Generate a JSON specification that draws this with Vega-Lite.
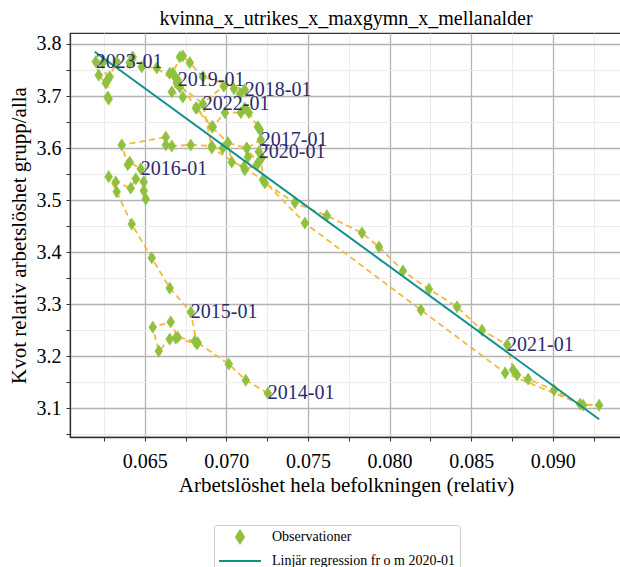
{
  "$schema": "https://vega.github.io/schema/vega-lite/v6.json",
  "width": 552,
  "height": 404,
  "autosize": {"type": "none"},
  "padding": {"left": 70, "top": 33, "right": 0, "bottom": 130},
  "background": "white",
  "title": {"text": "kvinna_x_utrikes_x_maxgymn_x_mellanalder", "font": "Liberation Serif", "fontSize": 20, "fontWeight": "normal", "color": "black", "offset": 4},
  "config": {
    "view": {"stroke": "#333333", "strokeWidth": 1.2}
  },
  "datasets": {
    "obs": [
      {"t": 1, "x": 0.07254, "y": 3.129, "label": "2014-01"},
      {"t": 2, "x": 0.07119, "y": 3.154, "label": ""},
      {"t": 3, "x": 0.07015, "y": 3.185, "label": ""},
      {"t": 4, "x": 0.06825, "y": 3.226, "label": ""},
      {"t": 5, "x": 0.06807, "y": 3.229, "label": ""},
      {"t": 6, "x": 0.06702, "y": 3.237, "label": ""},
      {"t": 7, "x": 0.06659, "y": 3.266, "label": ""},
      {"t": 8, "x": 0.06549, "y": 3.256, "label": ""},
      {"t": 9, "x": 0.06586, "y": 3.210, "label": ""},
      {"t": 10, "x": 0.06653, "y": 3.233, "label": ""},
      {"t": 11, "x": 0.06690, "y": 3.235, "label": ""},
      {"t": 12, "x": 0.06819, "y": 3.224, "label": ""},
      {"t": 13, "x": 0.06782, "y": 3.285, "label": "2015-01"},
      {"t": 14, "x": 0.06653, "y": 3.331, "label": ""},
      {"t": 15, "x": 0.06543, "y": 3.389, "label": ""},
      {"t": 16, "x": 0.06420, "y": 3.454, "label": ""},
      {"t": 17, "x": 0.06328, "y": 3.516, "label": ""},
      {"t": 18, "x": 0.06279, "y": 3.545, "label": ""},
      {"t": 19, "x": 0.06322, "y": 3.535, "label": ""},
      {"t": 20, "x": 0.06414, "y": 3.523, "label": ""},
      {"t": 21, "x": 0.06445, "y": 3.541, "label": ""},
      {"t": 22, "x": 0.06494, "y": 3.535, "label": ""},
      {"t": 23, "x": 0.06494, "y": 3.518, "label": ""},
      {"t": 24, "x": 0.06506, "y": 3.502, "label": ""},
      {"t": 25, "x": 0.06475, "y": 3.560, "label": "2016-01"},
      {"t": 26, "x": 0.06408, "y": 3.573, "label": ""},
      {"t": 27, "x": 0.06396, "y": 3.568, "label": ""},
      {"t": 28, "x": 0.06359, "y": 3.606, "label": ""},
      {"t": 29, "x": 0.06629, "y": 3.621, "label": ""},
      {"t": 30, "x": 0.06629, "y": 3.606, "label": ""},
      {"t": 31, "x": 0.06666, "y": 3.604, "label": ""},
      {"t": 32, "x": 0.06782, "y": 3.606, "label": ""},
      {"t": 33, "x": 0.06911, "y": 3.604, "label": ""},
      {"t": 34, "x": 0.06978, "y": 3.600, "label": ""},
      {"t": 35, "x": 0.07009, "y": 3.610, "label": ""},
      {"t": 36, "x": 0.07125, "y": 3.600, "label": ""},
      {"t": 37, "x": 0.07211, "y": 3.616, "label": "2017-01"},
      {"t": 38, "x": 0.07205, "y": 3.635, "label": ""},
      {"t": 39, "x": 0.07193, "y": 3.641, "label": ""},
      {"t": 40, "x": 0.07138, "y": 3.668, "label": ""},
      {"t": 41, "x": 0.07113, "y": 3.677, "label": ""},
      {"t": 42, "x": 0.07089, "y": 3.668, "label": ""},
      {"t": 43, "x": 0.06991, "y": 3.668, "label": ""},
      {"t": 44, "x": 0.06917, "y": 3.641, "label": ""},
      {"t": 45, "x": 0.06819, "y": 3.677, "label": ""},
      {"t": 46, "x": 0.06984, "y": 3.719, "label": ""},
      {"t": 47, "x": 0.07046, "y": 3.714, "label": ""},
      {"t": 48, "x": 0.07083, "y": 3.704, "label": ""},
      {"t": 49, "x": 0.07113, "y": 3.712, "label": "2018-01"},
      {"t": 50, "x": 0.06856, "y": 3.737, "label": ""},
      {"t": 51, "x": 0.06776, "y": 3.764, "label": ""},
      {"t": 52, "x": 0.06733, "y": 3.777, "label": ""},
      {"t": 53, "x": 0.06715, "y": 3.775, "label": ""},
      {"t": 54, "x": 0.06672, "y": 3.744, "label": ""},
      {"t": 55, "x": 0.06696, "y": 3.725, "label": ""},
      {"t": 56, "x": 0.06666, "y": 3.708, "label": ""},
      {"t": 57, "x": 0.06733, "y": 3.698, "label": ""},
      {"t": 58, "x": 0.06715, "y": 3.717, "label": ""},
      {"t": 59, "x": 0.06653, "y": 3.744, "label": ""},
      {"t": 60, "x": 0.06684, "y": 3.737, "label": ""},
      {"t": 61, "x": 0.06702, "y": 3.731, "label": "2019-01"},
      {"t": 62, "x": 0.06813, "y": 3.677, "label": ""},
      {"t": 63, "x": 0.06911, "y": 3.641, "label": ""},
      {"t": 64, "x": 0.07009, "y": 3.610, "label": ""},
      {"t": 65, "x": 0.07033, "y": 3.573, "label": ""},
      {"t": 66, "x": 0.07107, "y": 3.564, "label": ""},
      {"t": 67, "x": 0.07132, "y": 3.583, "label": ""},
      {"t": 68, "x": 0.07125, "y": 3.600, "label": ""},
      {"t": 69, "x": 0.07193, "y": 3.571, "label": ""},
      {"t": 70, "x": 0.07113, "y": 3.558, "label": ""},
      {"t": 71, "x": 0.07187, "y": 3.568, "label": ""},
      {"t": 72, "x": 0.07217, "y": 3.581, "label": ""},
      {"t": 73, "x": 0.07199, "y": 3.593, "label": "2020-01"},
      {"t": 74, "x": 0.07236, "y": 3.533, "label": ""},
      {"t": 75, "x": 0.07420, "y": 3.495, "label": ""},
      {"t": 76, "x": 0.07616, "y": 3.470, "label": ""},
      {"t": 77, "x": 0.07831, "y": 3.437, "label": ""},
      {"t": 78, "x": 0.07935, "y": 3.410, "label": ""},
      {"t": 79, "x": 0.08082, "y": 3.364, "label": ""},
      {"t": 80, "x": 0.08241, "y": 3.329, "label": ""},
      {"t": 81, "x": 0.08413, "y": 3.295, "label": ""},
      {"t": 82, "x": 0.08566, "y": 3.250, "label": ""},
      {"t": 83, "x": 0.08720, "y": 3.222, "label": "2021-01"},
      {"t": 84, "x": 0.08757, "y": 3.174, "label": ""},
      {"t": 85, "x": 0.08781, "y": 3.164, "label": ""},
      {"t": 86, "x": 0.08849, "y": 3.156, "label": ""},
      {"t": 87, "x": 0.09008, "y": 3.135, "label": ""},
      {"t": 88, "x": 0.09167, "y": 3.108, "label": ""},
      {"t": 89, "x": 0.09284, "y": 3.106, "label": ""},
      {"t": 90, "x": 0.09186, "y": 3.106, "label": ""},
      {"t": 91, "x": 0.08708, "y": 3.168, "label": ""},
      {"t": 92, "x": 0.08192, "y": 3.289, "label": ""},
      {"t": 93, "x": 0.07481, "y": 3.456, "label": ""},
      {"t": 94, "x": 0.07224, "y": 3.539, "label": ""},
      {"t": 95, "x": 0.06911, "y": 3.600, "label": ""},
      {"t": 96, "x": 0.06856, "y": 3.685, "label": "2022-01"},
      {"t": 97, "x": 0.06574, "y": 3.754, "label": ""},
      {"t": 98, "x": 0.06482, "y": 3.756, "label": ""},
      {"t": 99, "x": 0.06426, "y": 3.775, "label": ""},
      {"t": 100, "x": 0.06408, "y": 3.764, "label": ""},
      {"t": 101, "x": 0.06328, "y": 3.766, "label": ""},
      {"t": 102, "x": 0.06285, "y": 3.737, "label": ""},
      {"t": 103, "x": 0.06261, "y": 3.725, "label": ""},
      {"t": 104, "x": 0.06218, "y": 3.740, "label": ""},
      {"t": 105, "x": 0.06200, "y": 3.766, "label": "2023-01"},
      {"t": 106, "x": 0.06242, "y": 3.764, "label": ""},
      {"t": 107, "x": 0.06273, "y": 3.731, "label": ""},
      {"t": 108, "x": 0.06279, "y": 3.694, "label": ""},
      {"t": 109, "x": 0.06273, "y": 3.698, "label": ""}
    ],
    "reg": [
      {"x": 0.06193, "y": 3.7852},
      {"x": 0.09284, "y": 3.0789}
    ]
  },
  "layer": [
    {
      "data": {"name": "obs"},
      "mark": {"type": "line", "strokeDash": [6, 4], "strokeWidth": 1.8, "color": "#f6b83c"},
      "encoding": {
        "x": {
          "field": "x", "type": "quantitative",
          "scale": {"domain": [0.06042, 0.09424], "nice": false, "zero": false},
          "axis": {
            "values": [0.0625, 0.065, 0.0675, 0.07, 0.0725, 0.075, 0.0775, 0.08, 0.0825, 0.085, 0.0875, 0.09, 0.0925],
            "tickCount": 40,
            "labelExpr": "substring(format(datum.value, '.4f'), 5, 6) == '0' ? format(datum.value, '.3f') : ''",
            "gridColor": {"condition": {"test": "substring(format(datum.value, '.4f'), 5, 6) == '0'", "value": "#b4b4b4"}, "value": "#ebebeb"},
            "gridWidth": {"condition": {"test": "substring(format(datum.value, '.4f'), 5, 6) == '0'", "value": 1.3}, "value": 1},
            "title": "Arbetslöshet hela befolkningen (relativ)",
            "titleFont": "Liberation Serif", "titleFontSize": 21, "titleFontWeight": "normal", "titleColor": "black", "titlePadding": 3,
            "labelFont": "Liberation Serif", "labelFontSize": 20, "labelColor": "black", "labelPadding": 10, "labelFlush": false, "labelOverlap": false,
            "tickSize": 4, "tickColor": "#333333", "domainColor": "#333333", "domainWidth": 1.3
          }
        },
        "y": {
          "field": "y", "type": "quantitative",
          "scale": {"domain": [3.0449, 3.8211], "nice": false, "zero": false},
          "axis": {
            "values": [3.05, 3.1, 3.15, 3.2, 3.25, 3.3, 3.35, 3.4, 3.45, 3.5, 3.55, 3.6, 3.65, 3.7, 3.75, 3.8],
            "tickCount": 40,
            "labelExpr": "substring(format(datum.value, '.2f'), 3, 4) == '0' ? format(datum.value, '.1f') : ''",
            "gridColor": {"condition": {"test": "substring(format(datum.value, '.2f'), 3, 4) == '0'", "value": "#b4b4b4"}, "value": "#ebebeb"},
            "gridWidth": {"condition": {"test": "substring(format(datum.value, '.2f'), 3, 4) == '0'", "value": 1.3}, "value": 1},
            "title": "Kvot relativ arbetslöshet grupp/alla",
            "titleFont": "Liberation Serif", "titleFontSize": 21, "titleFontWeight": "normal", "titleColor": "black", "titlePadding": 7,
            "labelFont": "Liberation Serif", "labelFontSize": 20, "labelColor": "black", "labelPadding": 5, "labelFlush": false, "labelOverlap": false,
            "tickSize": 4, "tickColor": "#333333", "domainColor": "#333333", "domainWidth": 1.3
          }
        },
        "order": {"field": "t", "type": "quantitative"}
      }
    },
    {
      "data": {"name": "obs"},
      "mark": {"type": "point", "filled": true, "opacity": 1, "strokeWidth": 0.5},
      "encoding": {
        "x": {"field": "x", "type": "quantitative"},
        "y": {"field": "y", "type": "quantitative"},
        "color": {
          "datum": "Observationer",
          "scale": {"domain": ["Observationer", "Linjär regression fr o m 2020-01"], "range": ["#8fc13e", "#12908e"]},
          "legend": {
            "title": null,
            "orient": "none",
            "legendX": 144,
            "legendY": 492,
            "direction": "vertical",
            "clipHeight": 16,
            "rowPadding": 8,
            "padding": 4,
            "labelFont": "Liberation Serif",
            "labelFontSize": 14,
            "labelColor": "black",
            "labelOffset": 10,
            "labelLimit": 400,
            "symbolStrokeWidth": 2,
            "strokeColor": "#cccccc",
            "fillColor": "white",
            "cornerRadius": 3
          }
        },
        "stroke": {
          "datum": "Observationer",
          "scale": {"domain": ["Observationer", "Linjär regression fr o m 2020-01"], "range": ["#8fc13e", "#12908e"]}
        },
        "shape": {
          "datum": "Observationer",
          "scale": {"domain": ["Observationer", "Linjär regression fr o m 2020-01"], "range": ["M0,-1L0.65,0L0,1L-0.65,0Z", "stroke"]}
        },
        "size": {
          "datum": "Observationer",
          "type": "ordinal",
          "scale": {"type": "ordinal", "domain": ["Observationer", "Linjär regression fr o m 2020-01"], "range": [150, 1764]}
        }
      }
    },
    {
      "data": {"name": "reg"},
      "mark": {"type": "line", "strokeWidth": 2},
      "encoding": {
        "x": {"field": "x", "type": "quantitative"},
        "y": {"field": "y", "type": "quantitative"},
        "color": {"datum": "Linjär regression fr o m 2020-01"}
      }
    },
    {
      "data": {"name": "obs"},
      "transform": [{"filter": "datum.label != ''"}],
      "mark": {"type": "text", "align": "left", "baseline": "middle", "font": "Liberation Serif", "fontSize": 20, "color": "#2b2b6b"},
      "encoding": {
        "x": {"field": "x", "type": "quantitative"},
        "y": {"field": "y", "type": "quantitative"},
        "text": {"field": "label"}
      }
    }
  ]
}
